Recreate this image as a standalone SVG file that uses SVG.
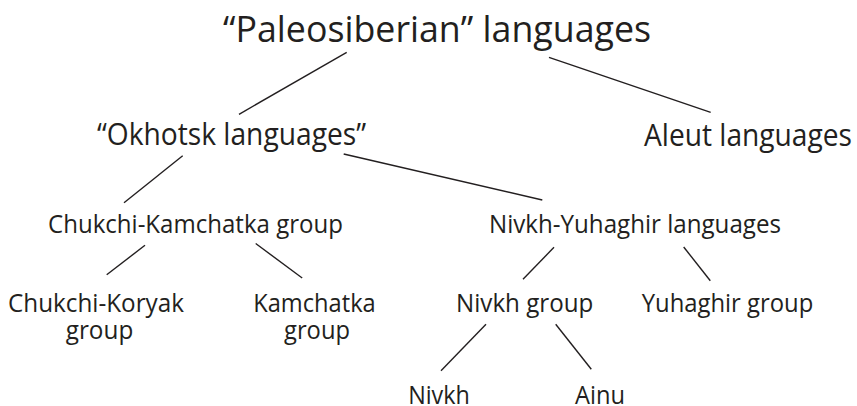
<svg xmlns="http://www.w3.org/2000/svg" width="857" height="406" viewBox="0 0 857 406">
<style>
text{font-family:"Open Sans","Noto Sans","Liberation Sans",sans-serif;fill:#231f20;text-anchor:middle}
.t0{font-size:37px}
.t1{font-size:31px}
.t2{font-size:26px}
#connectors line{stroke:#231f20;stroke-width:1.4;fill:none}
</style>
<rect width="857" height="406" fill="#fff"/>
<g id="connectors">
<line x1="346.7" y1="52.3" x2="239" y2="114.3"/>
<line x1="549" y1="57.3" x2="710.7" y2="112.3"/>
<line x1="343.7" y1="154" x2="542.3" y2="200"/>
<line x1="182.7" y1="155.7" x2="124" y2="202.7"/>
<line x1="145" y1="245.3" x2="106.7" y2="274.7"/>
<line x1="255.7" y1="243.5" x2="302.2" y2="278"/>
<line x1="554" y1="247.3" x2="523" y2="279.3"/>
<line x1="683.7" y1="247" x2="710.3" y2="280.7"/>
<line x1="486" y1="324.3" x2="441" y2="370.7"/>
<line x1="555.7" y1="324.3" x2="591.3" y2="369.3"/>
</g>
<g id="n-paleo"><text class="t0" x="437" y="42" textLength="428" lengthAdjust="spacingAndGlyphs">“Paleosiberian” languages</text></g>
<g id="n-okhotsk"><text class="t1" x="231.5" y="145" textLength="269" lengthAdjust="spacingAndGlyphs">“Okhotsk languages”</text></g>
<g id="n-aleut"><text class="t1" x="748" y="145.5" textLength="208" lengthAdjust="spacingAndGlyphs">Aleut languages</text></g>
<g id="n-chukkam"><text class="t2" x="195.5" y="233" textLength="295" lengthAdjust="spacingAndGlyphs">Chukchi-Kamchatka group</text></g>
<g id="n-nivyuk"><text class="t2" x="635" y="232.5" textLength="292" lengthAdjust="spacingAndGlyphs">Nivkh-Yuhaghir languages</text></g>
<g id="n-chukkor"><text class="t2" x="96" y="312" textLength="176" lengthAdjust="spacingAndGlyphs">Chukchi-Koryak</text><text class="t2" x="99.5" y="338.5" textLength="67.5" lengthAdjust="spacingAndGlyphs">group</text></g>
<g id="n-kam"><text class="t2" x="314.5" y="312" textLength="122.5" lengthAdjust="spacingAndGlyphs">Kamchatka</text><text class="t2" x="317" y="338.5" textLength="66" lengthAdjust="spacingAndGlyphs">group</text></g>
<g id="n-nivgroup"><text class="t2" x="524.7" y="311.7" textLength="137.3" lengthAdjust="spacingAndGlyphs">Nivkh group</text></g>
<g id="n-yukgroup"><text class="t2" x="727.5" y="311.7" textLength="171.6" lengthAdjust="spacingAndGlyphs">Yuhaghir group</text></g>
<g id="n-nivkh"><text class="t2" x="439" y="403.5" textLength="61.7" lengthAdjust="spacingAndGlyphs">Nivkh</text></g>
<g id="n-ainu"><text class="t2" x="600" y="403.5" textLength="50" lengthAdjust="spacingAndGlyphs">Ainu</text></g>
</svg>
